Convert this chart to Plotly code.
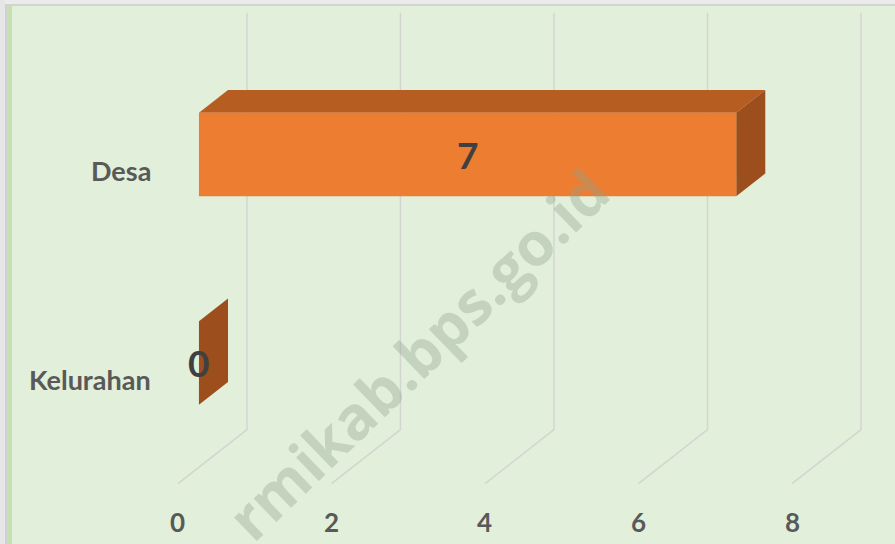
import plotly.graph_objects as go

# data
categories = ["Kelurahan", "Desa"]
values = [0, 7]
tick_values = [0, 2, 4, 6, 8]
tick_labels = ["0", "2", "4", "6", "8"]
watermark = "rmikab.bps.go.id"

# 3d-ish projection: depth d (0 = back wall, 1 = front edge of floor)
DX = -0.899   # value units shift per full depth
DY = -0.259   # category units shift per full depth
WALL_BOTTOM, WALL_TOP = -0.5, 1.5
BAR_HALF = 0.2
D_BACK, D_FRONT = 0.275, 0.696

FRONT = "#ED7D31"
TOP = "#B65D22"
SIDE = "#9C4F1C"
GRID = "#D3D5D1"
LABEL = "#595959"


def proj(v, c, d):
    return v + d * DX, c + d * DY


def face(points, color):
    xs, ys = zip(*[proj(*p) for p in points])
    return go.Scatter(
        x=list(xs) + [xs[0]],
        y=list(ys) + [ys[0]],
        mode="lines",
        fill="toself",
        fillcolor=color,
        line=dict(width=0, color=color),
        hoverinfo="skip",
        showlegend=False,
    )


fig = go.Figure()

# back wall + floor gridlines
for v in tick_values:
    pts = [proj(v, WALL_TOP, 0), proj(v, WALL_BOTTOM, 0), proj(v, WALL_BOTTOM, 1)]
    fig.add_trace(
        go.Scatter(
            x=[p[0] for p in pts],
            y=[p[1] for p in pts],
            mode="lines",
            line=dict(color=GRID, width=1.5),
            hoverinfo="skip",
            showlegend=False,
        )
    )

# bars
for i, (cat, val) in enumerate(zip(categories, values)):
    lo, hi = i - BAR_HALF, i + BAR_HALF
    if val > 0:
        fig.add_trace(face([(0, hi, D_FRONT), (val, hi, D_FRONT),
                            (val, hi, D_BACK), (0, hi, D_BACK)], TOP))
    fig.add_trace(face([(val, lo, D_FRONT), (val, lo, D_BACK),
                        (val, hi, D_BACK), (val, hi, D_FRONT)], SIDE))
    if val > 0:
        fig.add_trace(face([(0, lo, D_FRONT), (val, lo, D_FRONT),
                            (val, hi, D_FRONT), (0, hi, D_FRONT)], FRONT))

annotations = []

# value labels, centred on the front face
for i, val in enumerate(values):
    x, y = proj(val / 2, i, D_FRONT)
    annotations.append(dict(
        x=x, y=y, text=str(val), showarrow=False,
        font=dict(family="Lato", size=37, color="#404040", weight="bold"),
    ))

# category labels at the front of the floor
for i, cat in enumerate(categories):
    x, y = proj(0, i, 1)
    annotations.append(dict(
        x=x, y=y, text=cat, showarrow=False, xanchor="right", xshift=-25,
        font=dict(family="Lato", size=27, color=LABEL, weight="bold"),
    ))

# value axis tick labels at the front edge
for v, t in zip(tick_values, tick_labels):
    x, y = proj(v, WALL_BOTTOM, 1)
    annotations.append(dict(
        x=x, y=y, text=t, showarrow=False, yshift=-38,
        font=dict(family="Lato", size=26, color=LABEL, weight="bold"),
    ))

# watermark
annotations.append(dict(
    xref="paper", yref="paper", x=0.466, y=0.35, text=watermark,
    showarrow=False, textangle=-44,
    font=dict(family="Open Sans", size=60, color="rgba(140,160,140,0.36)", weight="bold"),
))

shapes = [
    dict(type="rect", xref="paper", yref="paper", x0=0, x1=1, y0=1 - 6 / 544, y1=1,
         fillcolor="#EBEBEB", line_width=0, layer="above"),
    dict(type="line", xref="paper", yref="paper", x0=0, x1=1, y0=1 - 5 / 544, y1=1 - 5 / 544,
         line=dict(color="#D3D3D3", width=2), layer="above"),
    dict(type="rect", xref="paper", yref="paper", x0=0, x1=5 / 895, y0=0, y1=1,
         fillcolor="#E6E6E6", line_width=0, layer="above"),
    dict(type="rect", xref="paper", yref="paper", x0=5 / 895, x1=7 / 895, y0=0, y1=1 - 5 / 544,
         fillcolor="#D0D0D0", line_width=0, layer="above"),
    dict(type="rect", xref="paper", yref="paper", x0=7 / 895, x1=12 / 895, y0=0, y1=1 - 6 / 544,
         fillcolor="#C6E0B4", line_width=0, layer="above"),
]

axis = dict(visible=False, showgrid=False, zeroline=False, fixedrange=True)

fig.update_layout(
    width=895,
    height=544,
    margin=dict(l=0, r=0, t=0, b=0),
    paper_bgcolor="#E2EFDA",
    plot_bgcolor="#E2EFDA",
    xaxis=dict(axis, range=[-3.218, 8.443]),
    yaxis=dict(axis, range=[-1.0484, 1.5607]),
    annotations=annotations,
    shapes=shapes,
    showlegend=False,
)

fig.write_html(
    "out.html",
    config={"displayModeBar": False},
    post_script="document.body.style.margin='0';",
)
